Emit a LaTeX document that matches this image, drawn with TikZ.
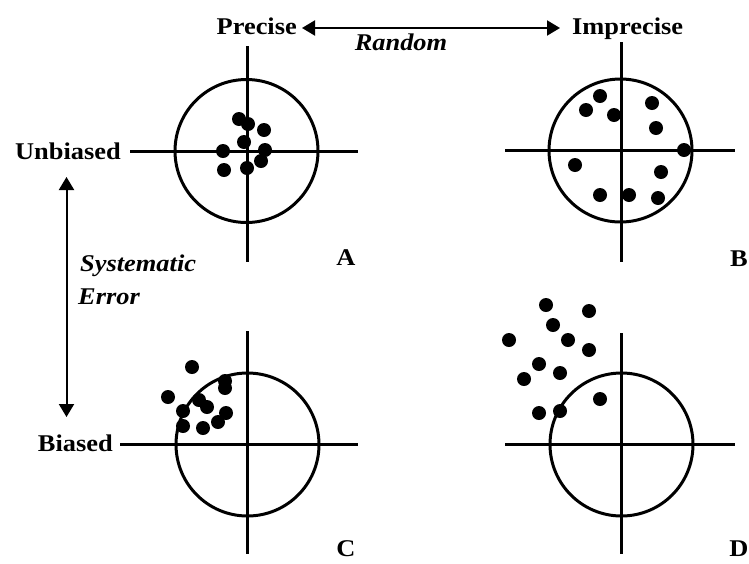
\documentclass[tikz,border=0pt]{standalone}
\usepackage{fontspec}
\setmainfont{Liberation Serif}[FakeStretch=1.1]
\usetikzlibrary{arrows.meta}
\begin{document}
\begin{tikzpicture}[x=1pt,y=-1pt,
  lbl/.style={font=\fontsize{24}{26}\selectfont\bfseries, inner sep=0pt},
  ilbl/.style={font=\fontsize{24}{26}\selectfont\bfseries\itshape, inner sep=0pt},
  axis/.style={line width=3pt},
  ring/.style={line width=3pt},
  shot/.style={fill=black},
  dbl/.style={line width=2pt, {Triangle[width=15pt,length=13pt]}-{Triangle[width=15pt,length=13pt]}}]
\useasboundingbox (0,0) rectangle (749,563);

% texts
\node[lbl, anchor=base east] (precise) at (297,34) {Precise};
\node[lbl, anchor=base west] (imprecise) at (572,34) {Imprecise};
\node[ilbl, anchor=base] (random) at (401,50) {Random};
\node[lbl, anchor=base east] (unbiased) at (121,159) {Unbiased};
\node[lbl, anchor=base east] (biased) at (113,451) {Biased};
\node[ilbl, anchor=base west] (syst) at (80,271) {Systematic};
\node[ilbl, anchor=base west] (error) at (78,304) {Error};
\node[lbl, anchor=base] (la) at (346,265) {A};
\node[lbl, anchor=base] (lb) at (739,266) {B};
\node[lbl, anchor=base] (lc) at (346,556) {C};
\node[lbl, anchor=base] (ld) at (739,556) {D};

% arrows
\coordinate (rl) at (302,28);
\coordinate (rr) at (560,28);
\coordinate (su) at (66.5,177);
\coordinate (sd) at (66.5,417);
\draw[dbl] (rl) -- (rr);
\draw[dbl] (su) -- (sd);

% target A
\coordinate (ca) at (246.5,151);
\draw[axis] (130,151) -- (358,151);
\draw[axis] (247.5,46) -- (247.5,262);
\draw[ring] (ca) circle[radius=71.5];
\foreach \p in {(239,119),(248,124),(264,130),(244,142),(223,151),(265,150),(261,161),(224,170),(247,168)}
  \fill[shot] \p circle[radius=7];

% target B
\coordinate (cb) at (620.5,150.5);
\draw[axis] (505,150.5) -- (735,150.5);
\draw[axis] (621.5,42) -- (621.5,262);
\draw[ring] (cb) circle[radius=71.5];
\foreach \p in {(600,96),(586,110),(614,115),(652,103),(656,128),(684,150),(575,165),(661,172),(600,195),(629,195),(658,198)}
  \fill[shot] \p circle[radius=7];

% target C
\coordinate (cc) at (247.5,444.5);
\draw[axis] (120,444.5) -- (358,444.5);
\draw[axis] (247.5,331) -- (247.5,554);
\draw[ring] (cc) circle[radius=71.5];
\foreach \p in {(192,367),(225,381),(225,388),(168,397),(199,400),(207,407),(183,411),(226,413),(218,422),(183,426),(203,428)}
  \fill[shot] \p circle[radius=7];

% target D
\coordinate (cd) at (621.5,444.5);
\draw[axis] (505,444.5) -- (735,444.5);
\draw[axis] (621.5,333) -- (621.5,554);
\draw[ring] (cd) circle[radius=71.5];
\foreach \p in {(546,305),(589,311),(553,325),(509,340),(568,340),(589,350),(539,364),(560,373),(524,379),(600,399),(539,413),(560,411)}
  \fill[shot] \p circle[radius=7];
\end{tikzpicture}
\end{document}
